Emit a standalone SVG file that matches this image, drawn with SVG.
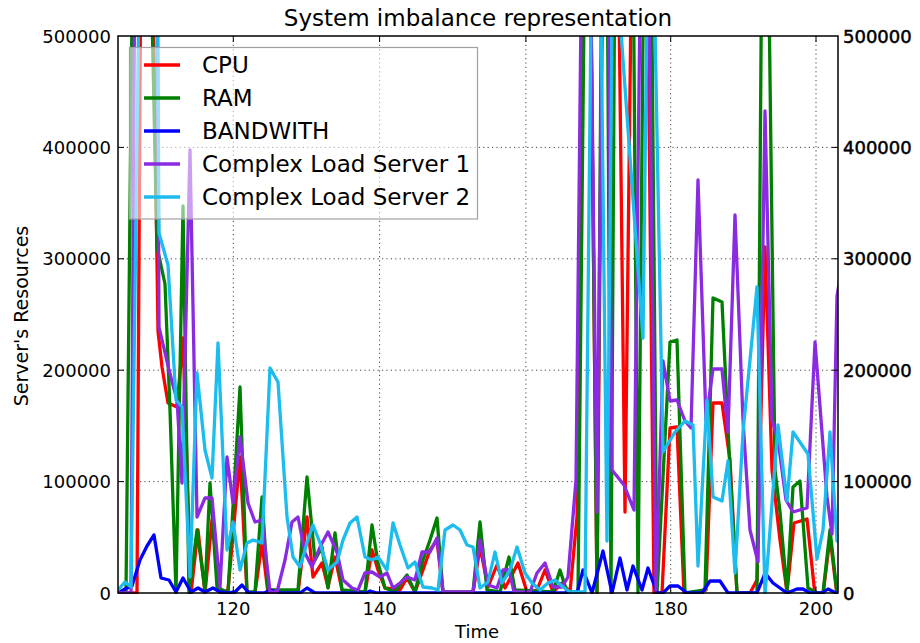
<svg xmlns="http://www.w3.org/2000/svg" width="920" height="643" viewBox="0 0 920 643">
  <style>
    text { font-family: "DejaVu Sans", "Liberation Sans", sans-serif; fill: #000; }
    .tick { font-size: 18px; }
    .ltick { text-anchor: end; }
    .rtick { text-anchor: start; stroke: #000; stroke-width: 0.5; }
    .xtick { text-anchor: middle; }
    .grid { stroke: #444; stroke-width: 1; stroke-dasharray: 1.2 3.2; fill: none; }
    .tk { stroke: #000; stroke-width: 1; }
    .s { fill: none; stroke-width: 3.3; stroke-linejoin: round; stroke-linecap: butt; }
    .cpu { stroke: #ff0000; }
    .ram { stroke: #008000; }
    .bw { stroke: #0000ff; }
    .cl1 { stroke: #8a2be2; }
    .cl2 { stroke: #1cbcee; }
    .leg { font-size: 23px; }
  </style>
  <defs>
    <clipPath id="plotclip">
      <rect x="118" y="36" width="720" height="558"/>
    </clipPath>
  </defs>

  <rect x="0" y="0" width="920" height="643" fill="#fff"/>

  <!-- grid -->
  <g id="grid">
    <line class="grid" x1="233.3" y1="36" x2="233.3" y2="593"/>
    <line class="grid" x1="379.6" y1="36" x2="379.6" y2="593"/>
    <line class="grid" x1="525.9" y1="36" x2="525.9" y2="593"/>
    <line class="grid" x1="670.7" y1="36" x2="670.7" y2="593"/>
    <line class="grid" x1="816" y1="36" x2="816" y2="593"/>
    <line class="grid" x1="118" y1="147.4" x2="838" y2="147.4"/>
    <line class="grid" x1="118" y1="258.8" x2="838" y2="258.8"/>
    <line class="grid" x1="118" y1="370.2" x2="838" y2="370.2"/>
    <line class="grid" x1="118" y1="481.6" x2="838" y2="481.6"/>
  </g>

  <!-- data series -->
  <g id="series" clip-path="url(#plotclip)">
    <polyline id="cpu" class="s cpu" points="118,593 125,593 133,593 137,593 141,-80 152,-80 158,331 162,367 168,403 177,407 183,338 191,593 198,530 205,593 212,520 220,593 228,590 240,457 247,593 255,593 262,543 268,593 298,593 307,517 313,577 322,563 328,587 335,557 342,590 350,593 365,593 372,550 378,570 385,588 400,590 407,578 415,592 423,570 430,550 437,540 443,593 473,593 480,547 488,587 497,565 505,588 512,575 518,563 527,592 537,590 545,570 553,592 562,583 570,592 577,517 584,-80 590,-80 597,593 603,-80 611,-80 618,-80 625,512 632,-80 647,-80 654,593 662,593 670,428 677,427 684,593 698,593 706,590 713,403 722,403 730,460 737,593 750,593 757,580 765,247 772,470 780,540 787,592 794,523 807,519 815,595 823,595 830,537 837,595 845,595"/>
    <polyline id="ram" class="s ram" points="118,593 126,592 133,-80 150,-80 157,247 165,284 170,410 176,593 183,206 189,593 197,530 205,590 210,483 217,587 228,593 240,387 247,592 255,592 262,497 268,590 298,590 307,477 315,560 322,547 328,588 335,533 342,590 365,592 372,525 378,563 385,588 395,592 403,580 407,575 415,592 423,560 430,540 437,518 443,592 473,592 480,522 487,590 500,592 509,557 515,590 553,592 560,570 567,592 578,592 585,-80 590,-80 597,592 602,-80 607,-80 611,592 615,-80 633,-80 638,593 644,-80 651,-80 657,593 670,342 677,340 685,593 705,590 713,298 722,302 730,470 737,593 757,593 762,-80 768,-80 775,470 780,512 787,592 793,487 800,481 808,588 817,593 823,593 830,530 837,593 845,593"/>
    <polyline id="bandwith" class="s bw" points="118,593 125,589 132,586 140,560 147,546 154,535 161,578 169,580 176,592 183,578 191,592 198,588 205,592 213,588 220,592 228,593 235,592 242,585 249,593 256,593 264,593 271,590 278,593 300,593 307,588 315,593 366,593 370,591 377,593 570,593 577,593 583,570 592,593 603,551 612,593 620,558 627,590 633,566 642,590 648,568 657,593 663,593 670,586 678,586 687,593 702,593 710,581 720,581 728,593 757,593 765,573 773,583 787,593 797,589 803,589 810,593 822,593 828,589 836,593 845,593"/>
    <polyline id="cls1" class="s cl1" points="118,593 125,593 131,593 135,-80 152,-80 157,-80 159,327 169,370 177,400 182,483 190,150 197,517 205,498 212,498 220,587 227,457 233,503 240,437 248,503 255,522 262,520 270,592 277,592 285,560 292,522 298,517 305,553 312,567 320,547 328,532 337,552 343,580 352,588 358,590 365,573 372,572 380,577 387,573 393,588 400,583 407,577 415,580 422,552 430,552 437,538 443,592 473,592 480,540 488,585 497,588 503,570 509,570 514,592 530,592 537,573 545,563 553,587 562,587 568,577 576,480 582,-80 590,-80 597,512 603,-80 608,-80 612,470 624,485 634,510 641,-80 648,-80 656,590 663,361 670,401 677,400 685,421 691,428 698,180 706,420 713,369 722,369 728,432 735,215 743,420 750,530 758,562 765,111 772,420 778,440 786,500 793,512 807,508 815,342 827,497 832,534 837,296 845,250"/>
    <polyline id="cls2" class="s cl2" points="118,590 125,582 131,587 140,-80 150,-80 157,-80 159,233 168,265 176,400 182,407 190,577 197,373 205,450 212,478 218,343 227,550 233,522 240,570 247,543 253,540 262,543 270,368 278,382 287,517 293,557 300,567 307,543 313,525 320,543 328,570 337,562 343,540 350,523 357,517 365,557 372,560 378,557 387,570 393,523 400,545 408,568 415,562 423,587 432,588 438,590 445,530 453,525 460,530 467,545 473,547 480,588 488,582 495,552 502,583 510,570 517,547 525,573 532,583 540,590 548,583 555,580 563,587 570,592 585,592 592,-80 600,-80 607,541 613,-80 618,-10 643,338 648,-80 653,-80 663,452 675,432 685,421 693,425 698,566 707,400 713,497 722,501 728,461 735,573 743,432 750,360 757,287 765,595 778,425 787,501 793,432 808,454 817,559 823,530 830,432 837,541 845,500"/>
  </g>

  <!-- axes frame and ticks -->
  <g id="axes">
    <rect x="118" y="36" width="720" height="557" fill="none" stroke="#000" stroke-width="1.5"/>
    <g class="tk">
      <line x1="233.3" y1="593" x2="233.3" y2="587"/>
      <line x1="379.6" y1="593" x2="379.6" y2="587"/>
      <line x1="525.9" y1="593" x2="525.9" y2="587"/>
      <line x1="670.7" y1="593" x2="670.7" y2="587"/>
      <line x1="816" y1="593" x2="816" y2="587"/>
      <line x1="233.3" y1="36" x2="233.3" y2="42"/>
      <line x1="379.6" y1="36" x2="379.6" y2="42"/>
      <line x1="525.9" y1="36" x2="525.9" y2="42"/>
      <line x1="670.7" y1="36" x2="670.7" y2="42"/>
      <line x1="816" y1="36" x2="816" y2="42"/>
      <line x1="118" y1="147.4" x2="124" y2="147.4"/>
      <line x1="118" y1="258.8" x2="124" y2="258.8"/>
      <line x1="118" y1="370.2" x2="124" y2="370.2"/>
      <line x1="118" y1="481.6" x2="124" y2="481.6"/>
      <line x1="838" y1="147.4" x2="832" y2="147.4"/>
      <line x1="838" y1="258.8" x2="832" y2="258.8"/>
      <line x1="838" y1="370.2" x2="832" y2="370.2"/>
      <line x1="838" y1="481.6" x2="832" y2="481.6"/>
    </g>
  </g>

  <!-- legend -->
  <g id="legend">
    <rect x="129.5" y="47.5" width="348" height="171.5" fill="#fff" fill-opacity="0.55" stroke="#a0a0a0" stroke-width="1.2"/>
    <line class="s cpu" x1="144" y1="65" x2="180" y2="65"/>
    <line class="s ram" x1="144" y1="98" x2="180" y2="98"/>
    <line class="s bw" x1="144" y1="131" x2="180" y2="131"/>
    <line class="s cl1" x1="144" y1="164" x2="180" y2="164"/>
    <line class="s cl2" x1="144" y1="197" x2="180" y2="197"/>
    <text class="leg" x="202" y="73">CPU</text>
    <text class="leg" x="202" y="106">RAM</text>
    <text class="leg" x="202" y="139">BANDWITH</text>
    <text class="leg" x="202" y="172">Complex Load Server 1</text>
    <text class="leg" x="202" y="205">Complex Load Server 2</text>
  </g>

  <!-- tick labels -->
  <g id="labels-left" class="tick">
    <text class="tick ltick" x="111" y="42.5">500000</text>
    <text class="tick ltick" x="111" y="154">400000</text>
    <text class="tick ltick" x="111" y="265.3">300000</text>
    <text class="tick ltick" x="111" y="376.7">200000</text>
    <text class="tick ltick" x="111" y="488">100000</text>
    <text class="tick ltick" x="111" y="599.5">0</text>
  </g>
  <g id="labels-right">
    <text class="tick rtick" x="843" y="42.5">500000</text>
    <text class="tick rtick" x="843" y="154">400000</text>
    <text class="tick rtick" x="843" y="265.3">300000</text>
    <text class="tick rtick" x="843" y="376.7">200000</text>
    <text class="tick rtick" x="843" y="488">100000</text>
    <text class="tick rtick" x="843" y="599.5">0</text>
  </g>
  <g id="labels-bottom">
    <text class="tick xtick" x="233.3" y="615">120</text>
    <text class="tick xtick" x="379.6" y="615">140</text>
    <text class="tick xtick" x="525.9" y="615">160</text>
    <text class="tick xtick" x="670.7" y="615">180</text>
    <text class="tick xtick" x="816" y="615">200</text>
  </g>

  <text x="478" y="26" font-size="23" text-anchor="middle">System imbalance representation</text>
  <text x="477" y="638" font-size="18" text-anchor="middle">Time</text>
  <text transform="translate(28,316) rotate(-90)" font-size="19" text-anchor="middle">Server's Resources</text>
</svg>
